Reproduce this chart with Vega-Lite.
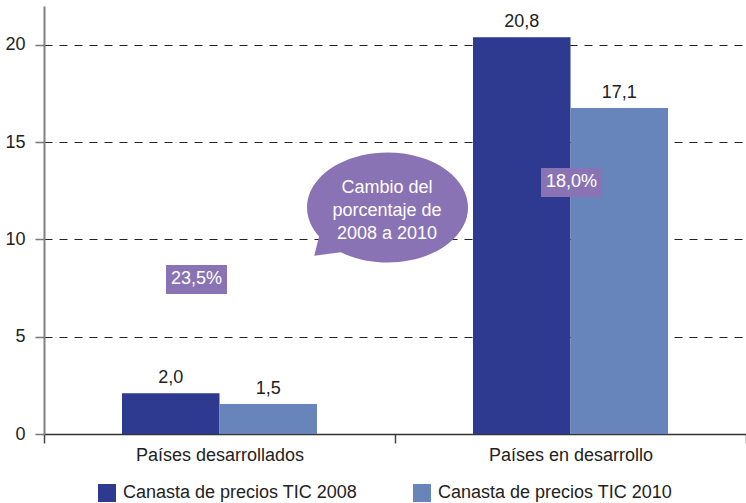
{
  "$schema": "https://vega.github.io/schema/vega-lite/v6.json",
  "width": 702,
  "height": 428,
  "padding": {"left": 4, "top": 6, "right": 0, "bottom": 0},
  "config": {
    "view": {"stroke": null},
    "font": "Liberation Sans",
    "text": {"font": "Liberation Sans"}
  },
  "datasets": {
    "barras": [
      {"grupo": "Países desarrollados", "serie": "Canasta de precios TIC 2008", "valor": 2.1, "etiqueta": "2,0"},
      {"grupo": "Países desarrollados", "serie": "Canasta de precios TIC 2010", "valor": 1.54, "etiqueta": "1,5"},
      {"grupo": "Países en desarrollo", "serie": "Canasta de precios TIC 2008", "valor": 20.4, "etiqueta": "20,8"},
      {"grupo": "Países en desarrollo", "serie": "Canasta de precios TIC 2010", "valor": 16.76, "etiqueta": "17,1"}
    ],
    "notas": [
      {"tipo": "caja", "texto": "23,5%", "x1": 0.3476, "x2": 0.5214, "y1": 7.197, "y2": 8.687, "xc": 0.4345, "yc": 7.942},
      {"tipo": "caja", "texto": "18,0%", "x1": 1.416, "x2": 1.590, "y1": 12.182, "y2": 13.673, "xc": 1.5028, "yc": 12.928},
      {"tipo": "burbuja", "texto": "Cambio del\nporcentaje de\n2008 a 2010", "xc": 0.977, "yc": 12.62, "xb": 0.9786, "yb": 11.645}
    ]
  },
  "layer": [
    {
      "data": {"name": "barras"},
      "encoding": {
        "x": {
          "field": "grupo", "type": "nominal", "sort": null,
          "scale": {"paddingInner": 0, "paddingOuter": 0},
          "axis": {
            "title": null, "labelAngle": 0, "labelFontSize": 18, "labelColor": "#222",
            "tickBand": "extent", "tickSize": 9, "tickColor": "#444", "tickWidth": 1.5,
            "domainColor": "#333", "domainWidth": 1.5, "labelPadding": 3, "grid": false
          }
        },
        "xOffset": {
          "field": "serie", "type": "nominal", "sort": null,
          "scale": {"paddingInner": 0, "paddingOuter": 0.8}
        },
        "y": {
          "field": "valor", "type": "quantitative",
          "scale": {"domain": [0, 22], "nice": false},
          "axis": {
            "title": null, "values": [0, 5, 10, 15, 20], "labelFontSize": 18, "labelColor": "#222",
            "tickSize": 9, "tickColor": "#777", "tickWidth": 1.5, "labelPadding": 10,
            "domainColor": "#808080", "domainWidth": 2,
            "grid": true, "gridDash": [8, 7], "gridColor": "#222", "gridWidth": 1
          }
        }
      },
      "layer": [
        {
          "mark": {"type": "bar", "opacity": 1},
          "encoding": {
            "color": {
              "field": "serie", "type": "nominal",
              "scale": {"domain": ["Canasta de precios TIC 2008", "Canasta de precios TIC 2010"], "range": ["#2E3990", "#6785BA"]},
              "legend": {
                "title": null, "orient": "none", "direction": "horizontal", "columns": 2,
                "legendX": 54, "legendY": 478,
                "symbolType": "square", "symbolSize": 324, "symbolStrokeWidth": 0, "symbolOpacity": 1,
                "labelFontSize": 18, "labelColor": "#222", "labelOffset": 7, "columnPadding": 55,
                "labelLimit": 400
              }
            }
          }
        },
        {
          "mark": {"type": "text", "baseline": "bottom", "dy": -6, "fontSize": 18, "color": "#222"},
          "encoding": {"text": {"field": "etiqueta"}}
        }
      ]
    },
    {
      "data": {"name": "notas"},
      "layer": [
        {
          "transform": [{"filter": "datum.tipo === 'caja'"}],
          "mark": {"type": "rect", "color": "#8A73B5"},
          "encoding": {
            "x": {"field": "x1", "type": "quantitative", "scale": {"domain": [0, 2], "nice": false, "zero": false}, "axis": null},
            "x2": {"field": "x2"},
            "y": {"field": "y1", "type": "quantitative"},
            "y2": {"field": "y2"}
          }
        },
        {
          "transform": [{"filter": "datum.tipo === 'burbuja'"}],
          "mark": {
            "type": "point", "filled": true, "opacity": 1, "color": "#8A73B5", "strokeWidth": 0,
            "shape": "M -0.85 0.36 L -0.91 0.6 L -0.58 0.557 A 1 0.683 0 1 0 -0.85 0.36 Z",
            "size": 25921
          },
          "encoding": {
            "x": {"field": "xb", "type": "quantitative", "axis": null},
            "y": {"field": "yb", "type": "quantitative"}
          }
        },
        {
          "mark": {"type": "text", "color": "white", "fontSize": 18, "baseline": "middle", "align": "center", "lineBreak": "\n", "lineHeight": 23},
          "encoding": {
            "x": {"field": "xc", "type": "quantitative", "axis": null},
            "y": {"field": "yc", "type": "quantitative"},
            "text": {"field": "texto"}
          }
        }
      ]
    }
  ],
  "resolve": {"scale": {"x": "independent"}}
}
